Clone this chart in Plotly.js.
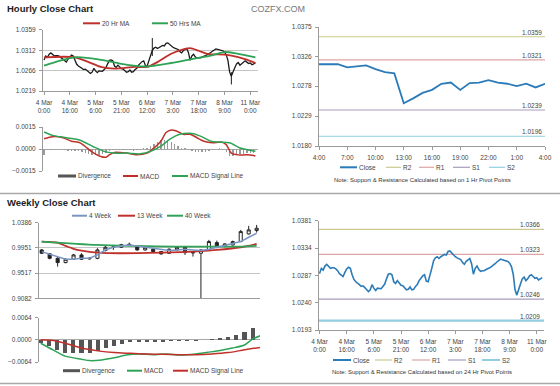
<!DOCTYPE html>
<html><head><meta charset="utf-8">
<script src="https://cdn.plot.ly/plotly-3.0.1.min.js"></script>
<style>html,body{margin:0;padding:0;background:#fff}#chart{width:560px;height:386px}</style>
</head><body><div id="chart"></div>
<script>
// ---------- DATA ----------
const hourTickIdx = [0,15,30,45,60,75,90,105,120];
const hourTickText = ['4 Mar<br>0:00','4 Mar<br>16:00','5 Mar<br>6:00','5 Mar<br>21:00','6 Mar<br>12:00','7 Mar<br>3:00','7 Mar<br>18:00','8 Mar<br>9:00','11 Mar<br>0:00'];
const hourClose = [1.0290,1.0299,1.0296,1.0303,1.0306,1.0303,1.0299,1.0300,1.0300,1.0298,
1.0295,1.0290,1.0287,1.0285,1.0292,1.0298,1.0301,1.0299,1.0288,1.0280,
1.0276,1.0274,1.0271,1.0268,1.0269,1.0266,1.0262,1.0259,1.0262,1.0271,
1.0265,1.0261,1.0265,1.0265,1.0264,1.0268,1.0272,1.0281,1.0289,1.0290,
1.0288,1.0276,1.0273,1.0278,1.0273,1.0270,1.0269,1.0265,1.0262,1.0263,
1.0267,1.0262,1.0263,1.0268,1.0271,1.0278,1.0283,1.0286,1.0288,1.0277,
1.0276,1.0290,1.0299,1.0312,1.0317,1.0319,1.0316,1.0319,1.0321,1.0323,
1.0322,1.0328,1.0329,1.0325,1.0321,1.0319,1.0317,1.0316,1.0314,1.0309,
1.0306,1.0311,1.0314,1.0316,1.0307,1.0289,1.0299,1.0303,1.0297,1.0294,
1.0295,1.0295,1.0297,1.0298,1.0300,1.0302,1.0304,1.0307,1.0310,1.0313,
1.0315,1.0314,1.0313,1.0313,1.0311,1.0308,1.0302,1.0289,1.0262,1.0253,
1.0265,1.0272,1.0281,1.0284,1.0278,1.0281,1.0286,1.0288,1.0285,1.0282,
1.0283,1.0279,1.0281,1.0283];
const wickIdx = [63,109];
const wickHigh = [1.0340,1.0262];
const wickLow = [1.0299,1.0234];
const ma20Idx = [0,18,26,33,41,53,60,66,74,82,85,90,95,105,109,117,123];
const ma20 = [1.0296,1.0296,1.0285,1.0274,1.0270,1.0274,1.0274,1.0285,1.0304,1.0315,1.0317,1.0311,1.0304,1.0302,1.0300,1.0292,1.0283];
const ma50Idx = [0,18,35,45,59,74,86,97,105,113,123];
const ma50 = [1.0277,1.0296,1.0289,1.0281,1.0275,1.0283,1.0292,1.0300,1.0308,1.0304,1.0296];
const macdIdx = [0,5,11,16,21,25,29,33,36,38,41,48,54,60,64,68,71,74,77,81,85,89,93,98,103,106,109,113,118,123];
const macdH = [0.00070,0.00084,0.00077,0.00053,0.00042,0.00007,-0.00028,-0.00051,-0.00056,-0.00040,-0.00023,-0.00028,-0.00040,-0.00028,0.00007,0.00053,0.00112,0.00130,0.00123,0.00100,0.00100,0.00077,0.00053,0.00042,0.00047,0.00030,-0.00028,-0.00040,-0.00040,-0.00047];
const sigIdx = [0,5,13,21,29,35,40,48,56,62,68,73,79,85,91,97,102,108,114,120,123];
const sigH = [0.00116,0.00093,0.00077,0.00060,0.00014,-0.00016,-0.00028,-0.00028,-0.00033,-0.00016,0.00019,0.00065,0.00100,0.00107,0.00088,0.00053,0.00047,0.00042,0.00007,-0.00009,-0.00016];
const divH = [-0.00040,-0.00010,-0.00008,-0.00006,-0.00006,-0.00008,-0.00010,-0.00012,-0.00012,-0.00014,
-0.00016,-0.00020,-0.00028,-0.00034,-0.00040,-0.00040,-0.00038,-0.00034,-0.00028,-0.00015,
-0.00006,-0.00004,-0.00004,-0.00006,-0.00008,-0.00010,-0.00012,-0.00010,-0.00006,0.00004,
0.00010,0.00020,0.00032,0.00045,0.00058,0.00062,0.00060,0.00050,0.00036,0.00022,
0.00010,0.00004,-0.00004,-0.00012,-0.00018,-0.00022,-0.00022,-0.00018,-0.00012,-0.00006,
0.00002,0.00004,-0.00004,-0.00020,-0.00048,-0.00050,-0.00040,-0.00035,-0.00032,-0.00030,
-0.00028,-0.00030];
const divIdx = divH.map((_,k)=>k*2);

const dayTickText = ['4:00','7:00','10:00','13:00','16:00','19:00','22:00','1:00','4:00'];
const dayClose = [1.0314,1.0314,1.0314,1.0309,1.0310,1.0312,1.0306,1.0301,1.0299,1.0250,1.0258,1.0267,1.0272,1.0282,1.0284,1.0272,1.0283,1.0284,1.0288,1.0284,1.0282,1.0278,1.0282,1.0276,1.0282];
const levelNames = ['R2','R1','S1','S2'];
const levels1h = [1.0359,1.0321,1.0239,1.0196];
const levels24h = [1.0366,1.0323,1.0246,1.0209];
const levelColors = ['#cbc98f','#dda5a5','#a99cbc','#93cde2'];

const weekOpen  = [0.9915,0.9850,0.9771,0.9697,0.9754,0.9829,0.9760,0.9771,0.9904,0.9961,0.9961,1.0013,0.9984,0.9915,0.9927,0.9886,0.9858,0.9915,0.9961,0.9875,0.9858,0.9915,1.0041,0.9973,1.0001,1.0059,1.0191,1.0249];
const weekHigh  = [0.9927,0.9858,0.9800,0.9771,0.9846,0.9858,0.9790,0.9944,0.9984,1.0001,1.0019,1.0041,0.9995,0.9973,0.9944,0.9895,0.9944,0.9973,0.9984,0.9886,0.9927,1.0088,1.0076,1.0030,1.0076,1.0260,1.0329,1.0346];
const weekLow   = [0.9846,0.9754,0.9628,0.9685,0.9743,0.9743,0.9750,0.9754,0.9890,0.9915,0.9950,0.9984,0.9904,0.9904,0.9880,0.9835,0.9850,0.9904,0.9829,0.9800,0.9082,0.9904,0.9944,0.9961,0.9990,1.0050,1.0180,1.0214];
const weekClose = [0.9858,0.9771,0.9697,0.9754,0.9829,0.9754,0.9771,0.9915,0.9961,0.9967,1.0007,1.0005,0.9915,0.9961,0.9886,0.9846,0.9927,0.9961,0.9869,0.9866,0.9915,1.0059,0.9961,1.0019,1.0059,1.0231,1.0260,1.0289];
const weekYTicks = [0.9082,0.9517,0.9951,1.0386];
const weekTickDates = ['2012-08-31','2012-10-05','2012-11-09','2012-12-14','2013-01-18','2013-02-22'];
const weekTickText = ['31-Aug','5-Oct','9-Nov','14-Dec','18-Jan','22-Feb'];
const ma4w = [0.9886,0.9846,0.9800,0.9754,0.9754,0.9771,0.9771,0.9829,0.9915,0.9961,0.9984,1.0001,0.9984,0.9961,0.9944,0.9915,0.9904,0.9915,0.9927,0.9915,0.9904,0.9927,0.9961,0.9984,1.0019,1.0059,1.0134,1.0203];
const ma13Idx = [0,1,2,3,4,5,7,10,15,19,22,25,27];
const ma13w = [1.0058,1.0052,1.0040,0.9985,0.9935,0.9904,0.9869,0.9858,0.9869,0.9886,0.9915,0.9961,1.0019];
const ma40Idx = [0,7,12,17,21,25,27];
const ma40w = [1.0059,1.0001,0.9984,0.9973,0.9973,0.9973,0.9984];
const wDiv = [-0.0010,-0.0019,-0.0029,-0.0037,-0.0038,-0.0037,-0.0037,-0.0031,-0.0024,-0.0017,-0.0012,-0.0007,-0.0006,-0.0006,-0.0007,-0.0006,-0.0005,-0.0005,-0.0005,-0.0005,-0.0002,0.0003,0.0005,0.0008,0.0014,0.0022,0.0034];
const wMacdIdx = [0,1.5,3,5,6,7.5,9,10.5,12,14,15.5,17,19,20.5,22,23.5,25,26,27];
const wMacd = [-0.0010,-0.0029,-0.0047,-0.0056,-0.0060,-0.0058,-0.0052,-0.0044,-0.0041,-0.0043,-0.0041,-0.0044,-0.0041,-0.0036,-0.0031,-0.0024,-0.0015,0.0002,0.0012];
const wSigIdx = [0,1.5,3,5,7,9,11,13,15,17,19,21,23,25,27];
const wSig = [0,-0.0002,-0.0010,-0.0024,-0.0032,-0.0037,-0.0039,-0.0041,-0.0042,-0.0043,-0.0043,-0.0041,-0.0037,-0.0029,-0.0022];

// ---------- STYLE / LAYOUT HELPERS ----------
const W=560,H=386;
const fx=p=>p/W, fy=p=>1-p/H;
const FONT='Liberation Sans, Arial, sans-serif';
const tickFont={family:FONT,size:6.5,color:'#444'};
const RED='#c0302a', GREEN='#2ea356', BLUE='#2b7bb9', DARK='#555', W4='#7b96c4';
const ax={showgrid:false,zeroline:false,showline:true,linecolor:'#9a9a9a',linewidth:1,ticks:'outside',ticklen:3,tickcolor:'#9a9a9a',tickfont:tickFont,fixedrange:true,ticklabelstandoff:2};

const traces=[];
// top-left price
traces.push({x:hourClose.map((_,i)=>i),y:hourClose,xaxis:'x',yaxis:'y',mode:'lines',line:{color:'#1a1a1a',width:1.3},hoverinfo:'skip'});
const wx=[],wy=[];
wickIdx.forEach((v,k)=>{wx.push(v,v,null);wy.push(wickLow[k],wickHigh[k],null);});
traces.push({x:wx,y:wy,xaxis:'x',yaxis:'y',mode:'lines',line:{color:'#1a1a1a',width:1},hoverinfo:'skip'});
traces.push({x:ma20Idx,y:ma20,xaxis:'x',yaxis:'y',mode:'lines',line:{color:RED,width:1.8,shape:'spline',smoothing:0.8}});
traces.push({x:ma50Idx,y:ma50,xaxis:'x',yaxis:'y',mode:'lines',line:{color:GREEN,width:1.8,shape:'spline',smoothing:0.8}});
// top-left MACD
traces.push({type:'bar',x:divIdx,y:divH,xaxis:'x2',yaxis:'y2',marker:{color:'#9a9a9a'},width:0.8});
traces.push({x:macdIdx,y:macdH,xaxis:'x2',yaxis:'y2',mode:'lines',line:{color:RED,width:1.5,shape:'spline',smoothing:0.7}});
traces.push({x:sigIdx,y:sigH,xaxis:'x2',yaxis:'y2',mode:'lines',line:{color:GREEN,width:1.5,shape:'spline',smoothing:0.7}});
// top-right
levelNames.forEach((n,k)=>traces.push({x:[0,24],y:[levels1h[k],levels1h[k]],xaxis:'x3',yaxis:'y3',mode:'lines',line:{color:levelColors[k],width:1.2}}));
traces.push({x:dayClose.map((_,i)=>i),y:dayClose,xaxis:'x3',yaxis:'y3',mode:'lines',line:{color:BLUE,width:1.8}});
// bottom-right
levelNames.forEach((n,k)=>traces.push({x:[-0.3,124],y:[levels24h[k],levels24h[k]],xaxis:'x4',yaxis:'y4',mode:'lines',line:{color:levelColors[k],width:k===3?2.2:1.2}}));
traces.push({x:hourClose.map((_,i)=>i),y:hourClose,xaxis:'x4',yaxis:'y4',mode:'lines',line:{color:BLUE,width:1.6}});
// weekly
traces.push({x:ma13Idx,y:ma13w,xaxis:'x5',yaxis:'y5',mode:'lines',line:{color:RED,width:1.8,shape:'spline',smoothing:0.8}});
traces.push({x:ma40Idx,y:ma40w,xaxis:'x5',yaxis:'y5',mode:'lines',line:{color:GREEN,width:1.8,shape:'spline',smoothing:0.8}});
traces.push({x:ma4w.map((_,i)=>i),y:ma4w,xaxis:'x5',yaxis:'y5',mode:'lines',line:{color:W4,width:1.5}});
traces.push({type:'candlestick',x:weekOpen.map((_,i)=>i),open:weekOpen,high:weekHigh,low:weekLow,close:weekClose,xaxis:'x5',yaxis:'y5',
  increasing:{line:{color:'#222',width:1},fillcolor:'#ffffff'},decreasing:{line:{color:'#222',width:1},fillcolor:'#222222'},whiskerwidth:0,hoverinfo:'skip'});
// weekly MACD
traces.push({type:'bar',x:wDiv.map((_,i)=>i),y:wDiv,xaxis:'x6',yaxis:'y6',marker:{color:DARK},width:0.5});
traces.push({x:wMacdIdx,y:wMacd,xaxis:'x6',yaxis:'y6',mode:'lines',line:{color:GREEN,width:1.5,shape:'spline',smoothing:0.7}});
traces.push({x:wSigIdx,y:wSig,xaxis:'x6',yaxis:'y6',mode:'lines',line:{color:RED,width:1.5,shape:'spline',smoothing:0.7}});

const shapes=[], annotations=[];
const legFont={family:FONT,size:6.5,color:'#444'};
function leg(x0,x1,py,color,w,label){
  shapes.push({type:'line',xref:'paper',yref:'paper',x0:fx(x0),x1:fx(x1),y0:fy(py),y1:fy(py),line:{color:color,width:w}});
  annotations.push({xref:'paper',yref:'paper',x:fx(x1+1),y:fy(py),xanchor:'left',yanchor:'middle',text:label,showarrow:false,font:legFont,borderpad:0});
}
function txt(px,py,s,font,xa){annotations.push({xref:'paper',yref:'paper',x:fx(px),y:fy(py),xanchor:xa||'left',yanchor:'middle',text:s,showarrow:false,font:font,borderpad:0});}

// titles
txt(6,9,'<b>Hourly Close Chart</b>',{family:FONT,size:9.5,color:'#222'});
txt(250,9,'COZFX.COM',{family:FONT,size:9,color:'#777'});
txt(6,202.5,'<b>Weekly Close Chart</b>',{family:FONT,size:9.5,color:'#222'});
// separators
[193.5,383.5].forEach(py=>shapes.push({type:'line',xref:'paper',yref:'paper',x0:0,x1:1,y0:fy(py),y1:fy(py),line:{color:'#a8a8a8',width:1.5}}));
// legends
leg(83,100,23.3,RED,2,'20 Hr MA'); leg(152,168,23.3,GREEN,2,'50 Hrs MA');
leg(58,76,176,DARK,3,'Divergence'); leg(123,138,176,RED,2,'MACD'); leg(172,188,176,GREEN,2,'MACD Signal Line');
leg(340,357,167.3,BLUE,2,'Close'); leg(386,401,167.3,levelColors[0],1.2,'R2'); leg(419,434,167.3,levelColors[1],1.2,'R1'); leg(453,470,167.3,levelColors[2],1.2,'S1'); leg(489,505,167.3,levelColors[3],1.2,'S2');
txt(422,179.7,'Note: Support &amp; Resistance Calculated based on 1 Hr Pivot Points',{family:FONT,size:6,color:'#333'},'center');
leg(72,87,215.7,W4,2,'4 Week'); leg(118,135,215.7,RED,2,'13 Week'); leg(167,183,215.7,GREEN,2,'40 Week');
leg(63,80,370.7,DARK,3,'Divergence'); leg(127,142,370.7,GREEN,2,'MACD'); leg(173,188,370.7,RED,2,'MACD Signal Line');
leg(333,351,360,BLUE,2,'Close'); leg(375,392,360,levelColors[0],1.2,'R2'); leg(412,430,360,levelColors[1],1.2,'R1'); leg(448,466,360,levelColors[2],1.2,'S1'); leg(482,500,360,levelColors[3],2,'S2');
txt(422,372,'Note: Support &amp; Resistance Calculated based on 24 Hr Pivot Points',{family:FONT,size:6,color:'#333'},'center');
// level value labels
levelNames.forEach((n,k)=>{
  annotations.push({xref:'paper',yref:'y3',x:fx(543),y:levels1h[k],xanchor:'right',yanchor:'bottom',yshift:0,text:levels1h[k].toFixed(4),showarrow:false,font:legFont,borderpad:0});
  annotations.push({xref:'paper',yref:'y4',x:fx(541),y:levels24h[k],xanchor:'right',yanchor:'bottom',yshift:0,text:levels24h[k].toFixed(4),showarrow:false,font:legFont,borderpad:0});
});

const layout={width:W,height:H,margin:{l:0,r:0,t:0,b:0},paper_bgcolor:'#fff',plot_bgcolor:'rgba(0,0,0,0)',showlegend:false,boxgap:0.45,bargap:0,
 xaxis:Object.assign({},ax,{domain:[fx(43),fx(258)],range:[-0.6,124.5],anchor:'y',tickmode:'array',tickvals:hourTickIdx,ticktext:hourTickText}),
 yaxis:Object.assign({},ax,{domain:[fy(91),fy(29.5)],range:[1.0219,1.03595],anchor:'x',tickmode:'array',tickvals:[1.0219,1.0266,1.0312,1.0359],tickformat:'.4f',showgrid:true,gridcolor:'#c4c4c4'}),
 xaxis2:Object.assign({},ax,{domain:[fx(43),fx(258)],range:[-0.6,124.5],anchor:'y2',showticklabels:false,ticks:'',showline:false}),
 yaxis2:Object.assign({},ax,{domain:[fy(171),fy(127)],range:[-0.0015,0.0015],anchor:'x2',tickmode:'array',tickvals:[-0.0015,0,0.0015],tickformat:'.4f',zeroline:true,zerolinecolor:'#a8a8a8',zerolinewidth:1}),
 xaxis3:Object.assign({},ax,{domain:[fx(319),fx(545)],range:[0,24],anchor:'y3',tickmode:'array',tickvals:[0,3,6,9,12,15,18,21,24],ticktext:dayTickText}),
 yaxis3:Object.assign({},ax,{domain:[fy(146),fy(27)],range:[1.0180,1.0375],anchor:'x3',tickmode:'array',tickvals:[1.0180,1.0229,1.0278,1.0326,1.0375],tickformat:'.4f'}),
 xaxis4:Object.assign({},ax,{domain:[fx(319),fx(544)],range:[-0.3,124],anchor:'y4',tickmode:'array',tickvals:hourTickIdx,ticktext:hourTickText}),
 yaxis4:Object.assign({},ax,{domain:[fy(330),fy(220.7)],range:[1.0193,1.0381],anchor:'x4',tickmode:'array',tickvals:[1.0193,1.0240,1.0287,1.0334,1.0381],tickformat:'.4f'}),
 xaxis5:Object.assign({},ax,{domain:[fx(39),fx(260)],range:[-0.34,27.42],anchor:'y5',showticklabels:false,ticks:'',rangeslider:{visible:false}}),
 yaxis5:Object.assign({},ax,{domain:[fy(298.3),fy(222.5)],range:[0.9082,1.03875],anchor:'x5',tickmode:'array',tickvals:weekYTicks,tickformat:'.4f',showgrid:true,gridcolor:'#c4c4c4'}),
 xaxis7:Object.assign({},ax,{type:'date',overlaying:'x5',anchor:'y5',side:'bottom',range:['2012-08-22 13:40','2013-04-12 13:00'],tickmode:'array',tickvals:weekTickDates,ticktext:weekTickText,showline:false}),
 xaxis6:Object.assign({},ax,{domain:[fx(39),fx(260)],range:[-0.21,26.9],anchor:'y6',showticklabels:false,ticks:'',showline:false}),
 yaxis6:Object.assign({},ax,{domain:[fy(362),fy(317.5)],range:[-0.0064,0.0064],anchor:'x6',tickmode:'array',tickvals:[-0.0064,0,0.0064],tickformat:'.4f',zeroline:true,zerolinecolor:'#a8a8a8'}),
 shapes:shapes, annotations:annotations};
Plotly.newPlot('chart',traces,layout,{staticPlot:true,displayModeBar:false});
</script></body></html>
